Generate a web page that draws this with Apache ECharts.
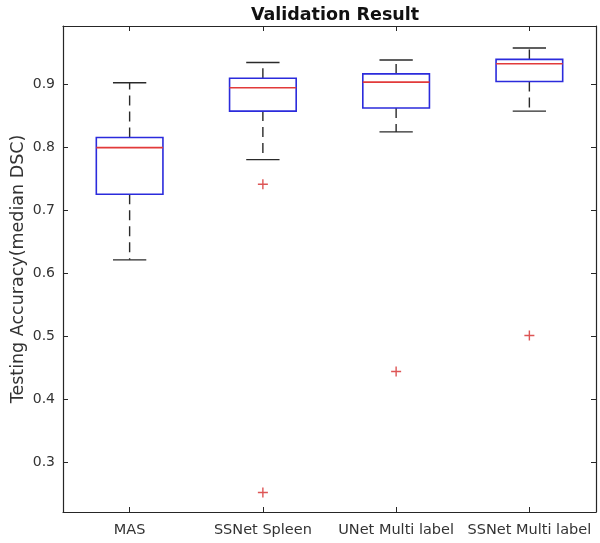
<!DOCTYPE html>
<html>
<head>
<meta charset="utf-8">
<script src="https://cdn.jsdelivr.net/npm/echarts@6/dist/echarts.min.js"></script>
<style>html,body{margin:0;padding:0;background:#fff}#c{width:600px;height:543px}</style>
</head>
<body>
<div id="c"></div>
<script>
var categories = ['MAS', 'SSNet Spleen', 'UNet Multi label', 'SSNet Multi label'];
var whiskerLow = [0.621, 0.780, 0.824, 0.857];
var q1 = [0.725, 0.857, 0.862, 0.904];
var median = [0.799, 0.894, 0.903, 0.932];
var q3 = [0.815, 0.909, 0.916, 0.939];
var whiskerHigh = [0.902, 0.934, 0.938, 0.957];
var outlierCat = [1, 1, 2, 3];
var outlierVal = [0.741, 0.252, 0.444, 0.501];
var yTicks = [0.3, 0.4, 0.5, 0.6, 0.7, 0.8, 0.9];

var boxData = categories.map(function (c, i) {
  return [i, whiskerLow[i], q1[i], median[i], q3[i], whiskerHigh[i]];
});
var outlierData = outlierCat.map(function (c, i) { return [c, outlierVal[i]]; });

var axisColor = '#262626';
var textColor = '#333333';
var font = 'DejaVu Sans';

function renderBox(params, api) {
  var x = api.value(0);
  var band = api.size([1, 0])[0];
  var bw = band * 0.5, cw = band * 0.25;
  var pLow = api.coord([x, api.value(1)]);
  var pQ1 = api.coord([x, api.value(2)]);
  var pMed = api.coord([x, api.value(3)]);
  var pQ3 = api.coord([x, api.value(4)]);
  var pHigh = api.coord([x, api.value(5)]);
  var cx = pMed[0];
  var wStyle = { stroke: '#2a2a2a', lineWidth: 1.4, lineDash: [10, 6] };
  var cStyle = { stroke: '#2a2a2a', lineWidth: 1.4 };
  return {
    type: 'group',
    children: [
      { type: 'line', shape: { x1: cx, y1: pQ3[1], x2: cx, y2: pHigh[1] }, style: wStyle },
      { type: 'line', shape: { x1: cx, y1: pQ1[1], x2: cx, y2: pLow[1] }, style: wStyle },
      { type: 'line', shape: { x1: cx - cw / 2, y1: pHigh[1], x2: cx + cw / 2, y2: pHigh[1] }, style: cStyle },
      { type: 'line', shape: { x1: cx - cw / 2, y1: pLow[1], x2: cx + cw / 2, y2: pLow[1] }, style: cStyle },
      { type: 'rect', shape: { x: cx - bw / 2, y: pQ3[1], width: bw, height: pQ1[1] - pQ3[1] },
        style: { fill: 'none', stroke: '#2b2bdc', lineWidth: 1.6 } },
      { type: 'line', shape: { x1: cx - bw / 2, y1: pMed[1], x2: cx + bw / 2, y2: pMed[1] },
        style: { stroke: '#e23a3a', lineWidth: 1.6 } }
    ]
  };
}

var chart = echarts.init(document.getElementById('c'), null, { renderer: 'canvas' });
chart.setOption({
  animation: false,
  backgroundColor: '#ffffff',
  title: {
    text: 'Validation Result', left: 330, top: 1, textAlign: 'center',
    textStyle: { fontFamily: font, fontWeight: 'bold', fontSize: 17.5, color: '#111' }
  },
  grid: { left: 63, right: 4, top: 26, bottom: 31, containLabel: false, outerBoundsMode: 'none' },
  xAxis: [{
    type: 'category', data: categories, boundaryGap: true, position: 'bottom',
    axisLine: { show: true, lineStyle: { color: axisColor, width: 1.2 } },
    axisTick: { show: true, inside: true, length: 5, alignWithLabel: true, lineStyle: { color: axisColor } },
    axisLabel: { color: textColor, fontFamily: font, fontSize: 14.5, margin: 11, interval: 0 },
    splitLine: { show: false }
  }, {
    type: 'category', data: categories, boundaryGap: true, position: 'top',
    axisLine: { show: true, lineStyle: { color: axisColor, width: 1.2 } },
    axisTick: { show: true, inside: true, length: 5, alignWithLabel: true, lineStyle: { color: axisColor } },
    axisLabel: { show: false }, splitLine: { show: false }
  }],
  yAxis: [{
    type: 'value', min: 0.221, max: 0.992, position: 'left',
    name: 'Testing Accuracy(median DSC)', nameLocation: 'middle', nameGap: 36, nameMoveOverlap: false,
    nameTextStyle: { fontFamily: font, fontSize: 17.5, color: textColor },
    axisLine: { show: true, lineStyle: { color: axisColor, width: 1.2 } },
    axisTick: { show: true, inside: true, length: 5, customValues: yTicks, lineStyle: { color: axisColor } },
    axisLabel: { color: textColor, fontFamily: font, fontSize: 14, margin: 8, customValues: yTicks,
      formatter: function (v) { return v.toFixed(1); } },
    splitLine: { show: false }
  }, {
    type: 'value', min: 0.221, max: 0.992, position: 'right',
    axisLine: { show: true, lineStyle: { color: axisColor, width: 1.2 } },
    axisTick: { show: true, inside: true, length: 5, customValues: yTicks, lineStyle: { color: axisColor } },
    axisLabel: { show: false }, splitLine: { show: false }
  }],
  series: [{
    type: 'custom', xAxisIndex: 0, yAxisIndex: 0, data: boxData,
    renderItem: renderBox, encode: { x: 0, y: [1, 2, 3, 4, 5] }, silent: true
  }, {
    type: 'scatter', xAxisIndex: 0, yAxisIndex: 0, data: outlierData,
    symbol: 'path://M4.3,0H5.7V4.3H10V5.7H5.7V10H4.3V5.7H0V4.3H4.3Z', symbolSize: 10,
    itemStyle: { color: '#d42a2a' }, silent: true
  }]
});
</script>
</body>
</html>
